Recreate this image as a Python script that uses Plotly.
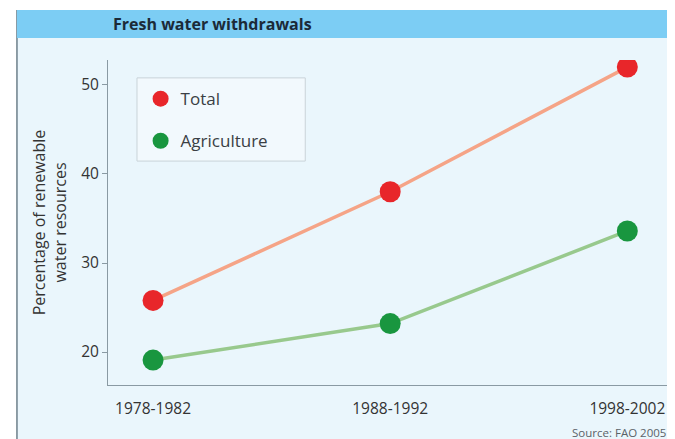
import plotly.graph_objects as go

periods = ["1978-1982", "1988-1992", "1998-2002"]
total = [25.8, 38.0, 52.0]
agriculture = [19.1, 23.2, 33.6]
y_ticks = [20, 30, 40, 50]

FONT = "Open Sans, Lato, sans-serif"
RED = "#e8262a"
GREEN = "#19963f"

fig = go.Figure()

fig.add_trace(go.Scatter(
    x=[0, 1, 2], y=total, name="Total", mode="lines+markers",
    line=dict(color="#f5a487", width=3.5),
    marker=dict(size=21, color=RED),
    showlegend=False,
))
fig.add_trace(go.Scatter(
    x=[0, 1, 2], y=agriculture, name="Agriculture", mode="lines+markers",
    line=dict(color="#98c98d", width=3.5),
    marker=dict(size=21, color=GREEN),
    showlegend=False,
))
# legend entries: dots only
fig.add_trace(go.Scatter(x=[None], y=[None], name="Total", mode="markers",
                         marker=dict(size=21, color=RED), legendgroup="a"))
fig.add_trace(go.Scatter(x=[None], y=[None], name="Agriculture", mode="markers",
                         marker=dict(size=21, color=GREEN), legendgroup="b"))

# background frame and header band (paper coords extending past plot area)
fig.add_shape(type="rect", xref="paper", yref="paper", x0=-0.162, x1=1.02, y0=-0.2, y1=1.154,
              fillcolor="#eaf6fc", line=dict(width=0), layer="below")
fig.add_shape(type="line", xref="paper", yref="paper", x0=-0.162, x1=-0.162, y0=-0.2, y1=1.154,
              line=dict(color="#6b7f8a", width=1.5))
fig.add_shape(type="rect", xref="paper", yref="paper", x0=-0.162, x1=1.02, y0=1.068, y1=1.154,
              fillcolor="#7ccdf4", line=dict(width=0))
# legend box
fig.add_shape(type="rect", xref="paper", yref="paper", x0=0.0516, x1=0.351, y0=0.689, y1=0.945,
              fillcolor="#f2f9fd", line=dict(color="#c9d3d8", width=1), layer="below")

fig.add_annotation(text="<b>Fresh water withdrawals</b>", xref="paper", yref="paper",
                   x=0.005, y=1.111, xanchor="left", yanchor="middle", showarrow=False,
                   font=dict(family=FONT, size=16, color="#1b2a38"))
fig.add_annotation(text="Source: FAO 2005", xref="paper", yref="paper",
                   x=0.997, y=-0.145, xanchor="right", yanchor="middle", showarrow=False,
                   font=dict(family=FONT, size=11.5, color="#5a6268"))

# page body has an 8px margin, so the figure is 8px smaller than the window
fig.update_layout(
    width=667, height=431,
    margin=dict(l=100, r=5, t=52, b=54),
    paper_bgcolor="white", plot_bgcolor="rgba(0,0,0,0)",
    font=dict(family=FONT, size=15.5, color="#333"),
    showlegend=True,
    legend=dict(x=0.058, y=0.935, xanchor="left", yanchor="top",
                bgcolor="rgba(0,0,0,0)", borderwidth=0,
                font=dict(size=17, color="#3a3f44"), tracegroupgap=17),
    xaxis=dict(range=[-0.19, 2.18], tickvals=[0, 1, 2], ticktext=periods,
               showgrid=False, zeroline=False, showline=True, linecolor="#8a9aa3",
               linewidth=1, ticks="", ticklabelstandoff=9,
               tickfont=dict(size=15.5, color="#333")),
    yaxis=dict(range=[16.3, 52.8], tickvals=y_ticks, showgrid=False, zeroline=False,
               showline=True, linecolor="#8a9aa3", linewidth=1, ticks="outside",
               ticklen=5, tickcolor="#8a9aa3", tickfont=dict(size=15.5, color="#333"),
               title=dict(text="Percentage of renewable<br>water resources",
                          font=dict(size=16, color="#333"), standoff=10)),
)

fig.write_html("out.html")
